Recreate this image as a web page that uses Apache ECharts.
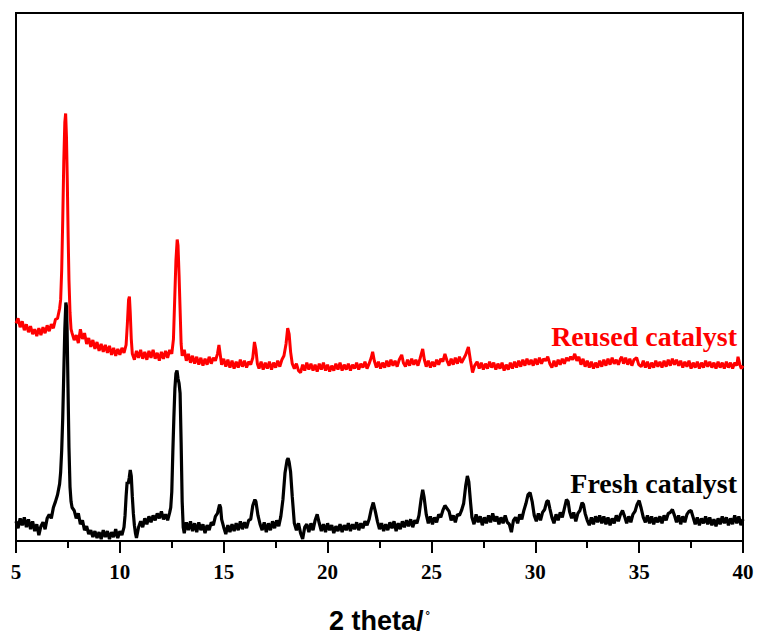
<!DOCTYPE html>
<html>
<head>
<meta charset="utf-8">
<script src="https://cdn.jsdelivr.net/npm/echarts@6/dist/echarts.min.js"></script>
<style>
  html, body { margin: 0; padding: 0; background: #fff; }
  #chart { width: 757px; height: 639px; }
</style>
</head>
<body>
<div id="chart"></div>
<script>
// x tick labels (2 theta, degrees)
const xTicks = [5, 10, 15, 20, 25, 30, 35, 40];

// Fresh catalyst pattern, [2theta, intensity a.u.]
const freshData = [
  [5.0,20],[5.1,13],[5.2,23],[5.3,16],[5.4,24],[5.5,14],[5.6,22],[5.7,12],[5.8,20],[5.9,10],
  [6.0,17],[6.1,6],[6.2,15],[6.3,19],[6.4,12],[6.5,23],[6.6,27],[6.7,23],[6.8,34],[6.9,40],
  [7.0,47],[7.1,58],[7.15,70],[7.2,92],[7.25,125],[7.3,170],[7.35,215],[7.4,242],[7.43,238],[7.46,215],
  [7.5,160],[7.55,95],[7.6,55],[7.65,40],[7.7,34],[7.8,31],[7.9,23],[8.0,28],[8.1,17],[8.2,21],
  [8.3,11],[8.4,15],[8.5,7],[8.6,11],[8.7,4],[8.8,10],[8.9,3],[9.0,9],[9.1,2],[9.2,11],
  [9.3,4],[9.4,10],[9.5,2],[9.6,9],[9.7,4],[9.8,12],[9.9,3],[10.0,10],[10.1,6],[10.2,14],
  [10.25,26],[10.3,45],[10.35,60],[10.4,58],[10.45,64],[10.5,72],[10.55,66],[10.6,45],[10.65,28],[10.7,16],
  [10.75,8],[10.8,3],[10.9,14],[11.0,20],[11.1,14],[11.2,23],[11.3,17],[11.4,25],[11.5,19],[11.6,26],
  [11.7,21],[11.8,28],[11.9,23],[12.0,30],[12.1,22],[12.2,27],[12.3,21],[12.4,29],[12.45,34],[12.5,50],
  [12.55,90],[12.6,125],[12.65,155],[12.7,170],[12.75,173],[12.8,165],[12.85,160],[12.9,150],[12.95,100],[13.0,40],
  [13.05,14],[13.1,8],[13.2,19],[13.3,11],[13.4,20],[13.5,10],[13.6,18],[13.7,9],[13.8,19],[13.9,11],
  [14.0,17],[14.1,8],[14.2,16],[14.3,11],[14.4,19],[14.5,16],[14.6,25],[14.7,28],[14.8,37],[14.85,34],
  [14.9,22],[15.0,14],[15.1,7],[15.2,16],[15.3,9],[15.4,17],[15.5,10],[15.6,18],[15.7,11],[15.8,20],
  [15.9,12],[16.0,19],[16.1,13],[16.2,21],[16.3,22],[16.4,36],[16.5,42],[16.55,40],[16.65,26],[16.75,17],
  [16.85,11],[16.95,19],[17.05,9],[17.15,18],[17.25,11],[17.35,20],[17.45,13],[17.55,21],[17.65,15],[17.75,25],
  [17.85,42],[17.95,69],[18.05,82],[18.1,84],[18.15,80],[18.22,70],[18.3,45],[18.4,18],[18.5,11],[18.6,18],
  [18.7,8],[18.8,2],[18.9,14],[19.0,17],[19.1,9],[19.2,18],[19.3,11],[19.4,21],[19.5,27],[19.6,18],
  [19.7,10],[19.8,17],[19.9,9],[20.0,18],[20.1,11],[20.2,16],[20.3,8],[20.4,15],[20.5,10],[20.6,17],
  [20.7,9],[20.8,16],[20.9,11],[21.0,18],[21.1,10],[21.2,17],[21.3,12],[21.4,19],[21.5,11],[21.6,18],
  [21.7,13],[21.8,20],[21.9,16],[22.0,22],[22.1,32],[22.2,39],[22.3,30],[22.4,20],[22.5,12],[22.6,18],
  [22.7,10],[22.8,17],[22.9,11],[23.0,19],[23.1,13],[23.2,20],[23.3,10],[23.4,18],[23.5,12],[23.6,20],
  [23.7,14],[23.8,21],[23.9,15],[24.0,22],[24.1,14],[24.2,21],[24.3,18],[24.4,26],[24.5,42],[24.58,52],
  [24.65,44],[24.75,27],[24.85,18],[24.95,25],[25.05,17],[25.15,24],[25.25,19],[25.35,27],[25.45,24],[25.55,31],
  [25.65,36],[25.75,33],[25.85,30],[25.95,21],[26.05,26],[26.15,19],[26.25,27],[26.35,26],[26.45,31],[26.55,38],
  [26.65,56],[26.73,66],[26.8,60],[26.88,40],[26.95,24],[27.05,17],[27.15,27],[27.25,19],[27.35,25],[27.45,16],
  [27.55,24],[27.65,18],[27.75,26],[27.85,19],[27.95,28],[28.05,20],[28.15,25],[28.25,17],[28.35,24],[28.45,18],
  [28.55,26],[28.65,19],[28.75,17],[28.85,9],[28.95,21],[29.05,24],[29.15,18],[29.25,27],[29.35,22],[29.45,31],
  [29.55,38],[29.65,47],[29.75,49],[29.85,40],[29.95,26],[30.05,20],[30.15,28],[30.25,21],[30.35,29],[30.45,32],
  [30.55,40],[30.62,41],[30.7,33],[30.8,24],[30.9,18],[31.0,27],[31.1,21],[31.2,29],[31.3,24],[31.4,33],
  [31.5,42],[31.58,40],[31.65,30],[31.75,23],[31.85,29],[31.95,20],[32.05,28],[32.15,31],[32.25,39],[32.32,37],
  [32.4,28],[32.5,21],[32.6,16],[32.7,24],[32.8,17],[32.9,25],[33.0,19],[33.1,26],[33.2,18],[33.3,25],
  [33.4,17],[33.5,24],[33.6,16],[33.7,23],[33.8,18],[33.9,26],[34.0,20],[34.1,27],[34.2,31],[34.3,25],
  [34.4,18],[34.5,25],[34.6,19],[34.7,27],[34.8,30],[34.9,37],[35.0,41],[35.1,33],[35.2,24],[35.3,19],
  [35.4,26],[35.5,18],[35.6,25],[35.7,17],[35.8,24],[35.9,19],[36.0,25],[36.1,18],[36.2,26],[36.3,21],
  [36.4,28],[36.5,29],[36.6,32],[36.7,26],[36.8,19],[36.9,26],[37.0,17],[37.1,25],[37.2,19],[37.3,27],
  [37.4,30],[37.5,31],[37.6,24],[37.7,17],[37.8,24],[37.9,16],[38.0,23],[38.1,18],[38.2,25],[38.3,17],
  [38.4,24],[38.5,16],[38.6,22],[38.7,15],[38.8,23],[38.9,17],[39.0,25],[39.1,18],[39.2,24],[39.3,16],
  [39.4,23],[39.5,17],[39.6,26],[39.7,18],[39.8,25],[39.9,16],[40.0,22]
];

// Reused catalyst pattern, [2theta, intensity a.u.] (offset upward in the plot)
const reusedData = [
  [5.0,221],[5.1,226],[5.2,217],[5.3,223],[5.4,214],[5.5,220],[5.6,212],[5.7,218],[5.8,210],[5.9,215],
  [6.0,208],[6.1,216],[6.2,209],[6.3,217],[6.4,211],[6.5,219],[6.6,213],[6.7,220],[6.8,216],[6.9,225],
  [7.0,226],[7.1,236],[7.15,245],[7.2,275],[7.25,326],[7.3,385],[7.35,425],[7.39,434],[7.43,410],[7.47,365],
  [7.51,310],[7.55,265],[7.6,232],[7.65,215],[7.7,211],[7.8,204],[7.9,209],[8.0,201],[8.1,215],[8.2,205],
  [8.3,211],[8.4,200],[8.5,206],[8.6,197],[8.7,204],[8.8,195],[8.9,202],[9.0,193],[9.1,200],[9.2,192],
  [9.3,199],[9.4,191],[9.5,198],[9.6,189],[9.7,196],[9.8,188],[9.9,195],[10.0,189],[10.1,196],[10.2,191],
  [10.3,199],[10.36,220],[10.42,245],[10.46,248],[10.5,232],[10.55,205],[10.6,190],[10.7,184],[10.8,193],[10.9,186],
  [11.0,194],[11.1,185],[11.2,192],[11.3,184],[11.4,193],[11.5,186],[11.6,194],[11.7,185],[11.8,191],[11.9,183],
  [12.0,192],[12.1,185],[12.2,193],[12.3,186],[12.4,194],[12.5,190],[12.58,205],[12.64,245],[12.7,285],[12.76,306],
  [12.8,300],[12.85,270],[12.9,235],[12.95,200],[13.0,188],[13.1,194],[13.2,183],[13.3,190],[13.4,181],[13.5,188],
  [13.6,180],[13.7,187],[13.8,179],[13.9,186],[14.0,178],[14.1,185],[14.2,179],[14.3,187],[14.4,180],[14.5,186],
  [14.6,183],[14.7,190],[14.77,199],[14.84,188],[14.9,179],[15.0,185],[15.1,177],[15.2,184],[15.3,176],[15.4,183],
  [15.5,175],[15.6,182],[15.7,176],[15.8,184],[15.9,177],[16.0,183],[16.1,176],[16.2,182],[16.3,179],[16.4,186],
  [16.48,202],[16.55,194],[16.62,180],[16.7,175],[16.8,182],[16.9,174],[17.0,181],[17.1,175],[17.2,182],[17.3,174],
  [17.4,181],[17.5,176],[17.6,183],[17.7,177],[17.8,184],[17.9,188],[18.0,200],[18.08,216],[18.15,210],[18.22,192],
  [18.3,180],[18.4,175],[18.5,180],[18.6,173],[18.7,171],[18.8,179],[18.9,173],[19.0,181],[19.1,174],[19.2,180],
  [19.3,173],[19.4,179],[19.5,172],[19.6,180],[19.7,174],[19.8,181],[19.9,173],[20.0,179],[20.1,172],[20.2,178],
  [20.3,173],[20.4,180],[20.5,174],[20.6,181],[20.7,173],[20.8,179],[20.9,174],[21.0,180],[21.1,173],[21.2,179],
  [21.3,175],[21.4,181],[21.5,174],[21.6,180],[21.7,176],[21.8,182],[21.9,175],[22.0,180],[22.1,186],[22.17,192],
  [22.25,183],[22.35,176],[22.45,182],[22.55,175],[22.65,181],[22.75,176],[22.85,183],[22.95,177],[23.05,184],[23.15,178],
  [23.25,183],[23.35,177],[23.45,184],[23.57,189],[23.65,181],[23.75,177],[23.85,184],[23.95,178],[24.05,185],[24.15,179],
  [24.25,184],[24.35,178],[24.45,185],[24.58,195],[24.66,184],[24.75,177],[24.85,183],[24.95,176],[25.05,182],[25.15,177],
  [25.25,184],[25.35,179],[25.45,185],[25.55,182],[25.65,190],[25.75,183],[25.85,178],[25.95,185],[26.05,179],[26.15,186],
  [26.25,180],[26.35,187],[26.45,181],[26.55,185],[26.65,189],[26.78,197],[26.88,183],[26.98,171],[27.08,178],[27.2,182],
  [27.3,175],[27.4,181],[27.5,174],[27.6,180],[27.7,175],[27.8,182],[27.9,176],[28.0,181],[28.1,174],[28.2,180],
  [28.3,175],[28.4,181],[28.5,173],[28.6,179],[28.7,174],[28.8,181],[28.9,175],[29.0,182],[29.1,176],[29.2,183],
  [29.3,177],[29.4,184],[29.5,178],[29.6,185],[29.7,179],[29.8,184],[29.9,178],[30.0,185],[30.1,179],[30.2,186],
  [30.3,180],[30.4,185],[30.5,183],[30.6,187],[30.7,180],[30.8,176],[30.9,183],[31.0,177],[31.1,184],[31.2,179],
  [31.3,185],[31.4,180],[31.5,186],[31.6,183],[31.7,187],[31.8,184],[31.9,190],[32.0,183],[32.1,187],[32.2,179],
  [32.3,185],[32.4,177],[32.5,183],[32.6,176],[32.7,182],[32.8,175],[32.9,181],[33.0,176],[33.1,183],[33.2,177],
  [33.3,184],[33.4,178],[33.5,185],[33.6,179],[33.7,186],[33.8,180],[33.9,184],[34.0,179],[34.1,185],[34.16,187],
  [34.25,180],[34.35,186],[34.45,179],[34.55,185],[34.65,178],[34.75,184],[34.88,186],[34.98,179],[35.1,177],[35.2,183],
  [35.3,176],[35.4,182],[35.5,175],[35.6,181],[35.7,176],[35.8,183],[35.9,177],[36.0,182],[36.1,176],[36.2,183],
  [36.3,177],[36.4,184],[36.5,178],[36.6,185],[36.7,179],[36.8,184],[36.9,178],[37.0,183],[37.1,176],[37.2,182],
  [37.3,177],[37.4,183],[37.5,175],[37.6,181],[37.7,176],[37.8,182],[37.9,175],[38.0,181],[38.1,176],[38.2,183],
  [38.3,177],[38.4,182],[38.5,176],[38.6,181],[38.7,175],[38.8,182],[38.9,176],[39.0,181],[39.1,175],[39.2,182],
  [39.3,176],[39.4,181],[39.5,175],[39.6,181],[39.7,178],[39.76,187],[39.85,179],[39.92,175],[40.0,178]
];

const seriesNames = ['Reused catalyst', 'Fresh catalyst'];
const seriesColors = ['#ff0000', '#000000'];

const chart = echarts.init(document.getElementById('chart'), null, { renderer: 'svg' });

const option = {
  backgroundColor: '#ffffff',
  animation: false,
  grid: {
    left: 16,
    right: 14,
    top: 13,
    bottom: 90,
    show: true,
    borderColor: '#000',
    borderWidth: 2,
    backgroundColor: 'transparent'
  },
  xAxis: {
    type: 'value',
    min: xTicks[0],
    max: xTicks[xTicks.length - 1],
    interval: 5,
    name: '2 theta/{d|°}',
    nameLocation: 'middle',
    nameGap: 66,
    nameTextStyle: {
      fontFamily: 'Liberation Sans, Arial, sans-serif',
      fontWeight: 'bold',
      fontSize: 27,
      color: '#000',
      rich: {
        d: {
          fontFamily: 'Liberation Sans, Arial, sans-serif',
          fontSize: 11,
          color: '#000',
          padding: [0, 0, 12, 2]
        }
      }
    },
    axisLine: { show: true, lineStyle: { color: '#000', width: 2 } },
    axisTick: { show: true, inside: false, length: 12, lineStyle: { color: '#000', width: 2 } },
    minorTick: { show: true, splitNumber: 2, length: 7, lineStyle: { color: '#000', width: 2 } },
    axisLabel: {
      margin: 20,
      fontFamily: 'Liberation Serif, Times New Roman, serif',
      fontWeight: 'bold',
      fontSize: 21,
      color: '#000'
    },
    splitLine: { show: false }
  },
  yAxis: {
    type: 'value',
    min: 0,
    max: 536,
    axisLine: { show: false },
    axisTick: { show: false },
    axisLabel: { show: false },
    splitLine: { show: false }
  },
  graphic: [
    {
      type: 'text',
      right: 20,
      top: 322,
      style: {
        text: seriesNames[0],
        fill: seriesColors[0],
        font: 'bold 28px "Liberation Serif", "Times New Roman", serif'
      }
    },
    {
      type: 'text',
      right: 20,
      top: 469,
      style: {
        text: seriesNames[1],
        fill: seriesColors[1],
        font: 'bold 28px "Liberation Serif", "Times New Roman", serif'
      }
    }
  ],
  series: [
    {
      name: seriesNames[0],
      type: 'line',
      data: reusedData,
      showSymbol: false,
      symbol: 'none',
      lineStyle: { color: seriesColors[0], width: 3 },
      z: 2
    },
    {
      name: seriesNames[1],
      type: 'line',
      data: freshData,
      showSymbol: false,
      symbol: 'none',
      lineStyle: { color: seriesColors[1], width: 3.2 },
      z: 3
    }
  ]
};

chart.setOption(option);
</script>
</body>
</html>
